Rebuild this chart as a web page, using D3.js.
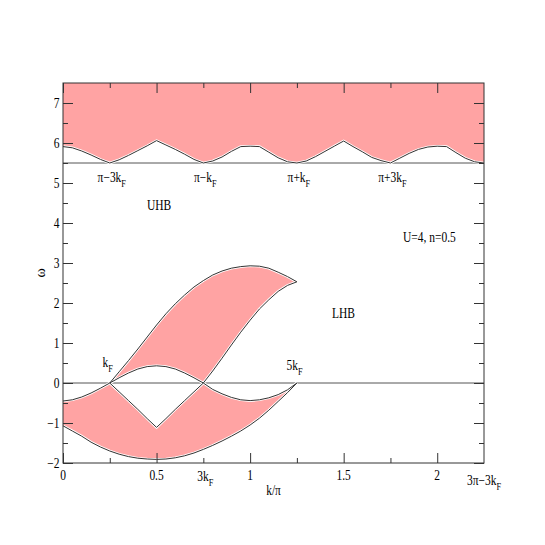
<!DOCTYPE html>
<html><head><meta charset="utf-8">
<script src="https://cdn.jsdelivr.net/npm/d3@7"></script>
<style>body{margin:0;background:#fff}</style>
</head><body><svg id="c" width="545" height="545"></svg>
<script>
// ---- data (k in units of pi, omega) ----
const uhbK = [0,0.05,0.1,0.15,0.2,0.25,0.3,0.35,0.4,0.45,0.5,0.55,0.6,0.65,0.7,0.75,0.8,0.85,0.9,0.95,1.0,1.05,1.1,1.15,1.2,1.25,1.3,1.35,1.4,1.45,1.5,1.55,1.6,1.65,1.7,1.75,1.8,1.85,1.9,1.95,2.0,2.05,2.1,2.15,2.2,2.25];
const uhbLower = [5.91,5.88,5.80,5.70,5.59,5.50,5.58,5.69,5.81,5.93,6.06,5.95,5.84,5.72,5.59,5.50,5.55,5.65,5.79,5.91,5.92,5.91,5.77,5.63,5.53,5.50,5.55,5.66,5.79,5.92,6.05,5.91,5.78,5.64,5.56,5.50,5.62,5.74,5.84,5.90,5.92,5.91,5.76,5.62,5.53,5.50];
const uhbTop = 7.5;

const lhbK = [0,0.05,0.1,0.15,0.2,0.25,0.3,0.35,0.4,0.45,0.5,0.55,0.6,0.65,0.7,0.75,0.8,0.85,0.9,0.95,1.0,1.05,1.1,1.15,1.2,1.25];
const lhbBottom = [-1.07,-1.2,-1.33,-1.48,-1.6,-1.7,-1.78,-1.84,-1.88,-1.9,-1.91,-1.9,-1.87,-1.82,-1.75,-1.66,-1.56,-1.45,-1.33,-1.2,-1.05,-0.88,-0.68,-0.46,-0.24,0];
const lhbLowerTop = [-0.45,-0.42,-0.35,-0.25,-0.13,0,-0.22,-0.44,-0.66,-0.89,-1.11,-0.89,-0.66,-0.44,-0.22,0,-0.16,-0.27,-0.36,-0.42,-0.44,-0.42,-0.37,-0.29,-0.17,0];

const upK = [0.25,0.3,0.35,0.4,0.45,0.5,0.55,0.6,0.65,0.7,0.75,0.8,0.85,0.9,0.95,1.0,1.05,1.1,1.15,1.2,1.25];
const upTop = [0,0.28,0.56,0.85,1.15,1.45,1.73,1.98,2.2,2.4,2.56,2.7,2.8,2.87,2.91,2.93,2.92,2.87,2.77,2.66,2.53];
const upBottom = [0,0.13,0.25,0.35,0.41,0.43,0.41,0.35,0.25,0.13,0,0.3,0.62,0.95,1.27,1.57,1.85,2.08,2.29,2.44,2.53];

const refLines = [0, 5.5];
const xMajor = [0,0.5,1,1.5,2];
const xMajorLabels = ["0","0.5","1","1.5","2"];
const xMinor = [0.25,0.75,1.25,1.75];
const yMajor = [-2,-1,0,1,2,3,4,5,6,7];
const yMajorLabels = ["\u22122","\u22121","0","1","2","3","4","5","6","7"];
const yMinor = [-1.5,-0.5,0.5,1.5,2.5,3.5,4.5,5.5,6.5];
const topMarks = [{k:0.25,m:"\u03c0\u22123k",s:"F"},{k:0.75,m:"\u03c0\u2212k",s:"F"},{k:1.25,m:"\u03c0+k",s:"F"},{k:1.75,m:"\u03c0+3k",s:"F"}];

// ---- layout ----
const svg = d3.select("#c");
const x = d3.scaleLinear().domain([0,2.25]).range([63,484]);
const y = d3.scaleLinear().domain([-2,7.5]).range([463,83]);
const PINK = "#ffa3a3";
const FONT = "'Liberation Serif','Times New Roman',serif";
const SX = 0.82;

function text(px, py, main, sub, anchor, size) {
  size = size || 14;
  const t = svg.append("text")
    .attr("transform", `translate(${px},${py}) scale(${SX},1)`)
    .attr("text-anchor", anchor || "start")
    .attr("font-family", FONT).attr("font-size", size).attr("fill", "#000");
  t.append("tspan").text(main);
  if (sub) t.append("tspan").attr("dy", 5).attr("font-size", size*0.72).text(sub);
  return t;
}

// fills
const uhbData = uhbK.map((k,i)=>({k, w:uhbLower[i]}));
svg.append("path").datum(uhbData)
  .attr("d", d3.area().x(d=>x(d.k)).y0(d=>y(d.w)).y1(y(uhbTop)))
  .attr("fill", PINK);
const lowData = lhbK.map((k,i)=>({k, a:lhbBottom[i], b:lhbLowerTop[i]}));
svg.append("path").datum(lowData)
  .attr("d", d3.area().x(d=>x(d.k)).y0(d=>y(d.a)).y1(d=>y(d.b)))
  .attr("fill", PINK);
const upData = upK.map((k,i)=>({k, a:upBottom[i], b:upTop[i]}));
svg.append("path").datum(upData)
  .attr("d", d3.area().x(d=>x(d.k)).y0(d=>y(d.a)).y1(d=>y(d.b)))
  .attr("fill", PINK);

// reference lines
refLines.forEach(v=>{
  svg.append("line").attr("x1", x(0)).attr("x2", x(2.25)).attr("y1", y(v)).attr("y2", y(v))
    .attr("stroke", "#555").attr("stroke-width", 1);
});

// curves
const curves = [
  uhbData.map(d=>[d.k,d.w]),
  lowData.map(d=>[d.k,d.a]),
  lowData.map(d=>[d.k,d.b]),
  upData.map(d=>[d.k,d.a]),
  upData.map(d=>[d.k,d.b])
];
const line = d3.line().x(d=>x(d[0])).y(d=>y(d[1]));
curves.forEach(c=>{
  svg.append("path").datum(c).attr("d", line).attr("fill","none")
    .attr("stroke","#fff").attr("stroke-width",2.6);
});
curves.forEach(c=>{
  svg.append("path").datum(c).attr("d", line).attr("fill","none")
    .attr("stroke","#333").attr("stroke-width",1);
});

// axes (ticks inward)
function axisG(axis, tx, ty) {
  const g = svg.append("g").attr("transform", `translate(${tx},${ty})`).call(axis);
  g.selectAll("text").remove();
  g.select(".domain").remove();
  g.selectAll("line").attr("stroke","#333");
  return g;
}
axisG(d3.axisBottom(x).tickValues(xMajor).tickSize(-10).tickFormat(""), 0, y(-2));
axisG(d3.axisBottom(x).tickValues(xMinor).tickSize(-5).tickFormat(""), 0, y(-2));
axisG(d3.axisTop(x).tickValues(xMajor).tickSize(-10).tickFormat(""), 0, y(7.5));
axisG(d3.axisTop(x).tickValues(xMinor).tickSize(-5).tickFormat(""), 0, y(7.5));
axisG(d3.axisLeft(y).tickValues(yMajor).tickSize(-10).tickFormat(""), x(0), 0);
axisG(d3.axisLeft(y).tickValues(yMinor).tickSize(-5).tickFormat(""), x(0), 0);
axisG(d3.axisRight(y).tickValues(yMajor).tickSize(-10).tickFormat(""), x(2.25), 0);
axisG(d3.axisRight(y).tickValues(yMinor).tickSize(-5).tickFormat(""), x(2.25), 0);
svg.append("rect").attr("x", x(0)).attr("y", y(7.5))
  .attr("width", x(2.25)-x(0)).attr("height", y(-2)-y(7.5))
  .attr("fill","none").attr("stroke","#333").attr("stroke-width",1);

// tick labels
xMajor.forEach((v,i)=> text(x(v), y(-2)+16.5, xMajorLabels[i], null, "middle"));
text(x(0.75)+2, y(-2)+17.5, "3k", "F", "middle");
text(x(2.25)-17, y(-2)+22, "3\u03c0\u22123k", "F", "start");
yMajor.forEach((v,i)=> text(59.5, y(v)+5, yMajorLabels[i], null, "end"));

// axis titles
text((x(0)+x(2.25))/2, 495, "k/\u03c0", null, "middle");
svg.append("text").attr("transform", `translate(45,${(y(-2)+y(7.5))/2}) rotate(-90)`)
  .attr("text-anchor","middle").attr("font-family",FONT).attr("font-size",14).text("\u03c9");

// annotations
topMarks.forEach(m=> text(x(m.k)+2, y(5.5)+19, m.m, m.s, "middle"));
text(x(0.449), y(4.325), "UHB", null, "start");
text(x(1.817), y(3.525), "U=4, n=0.5", null, "start");
text(x(1.437), y(1.625), "LHB", null, "start");
text(x(0.211), y(0.4), "k", "F", "start");
text(x(1.195), y(0.325), "5k", "F", "start");
</script>
</body></html>
